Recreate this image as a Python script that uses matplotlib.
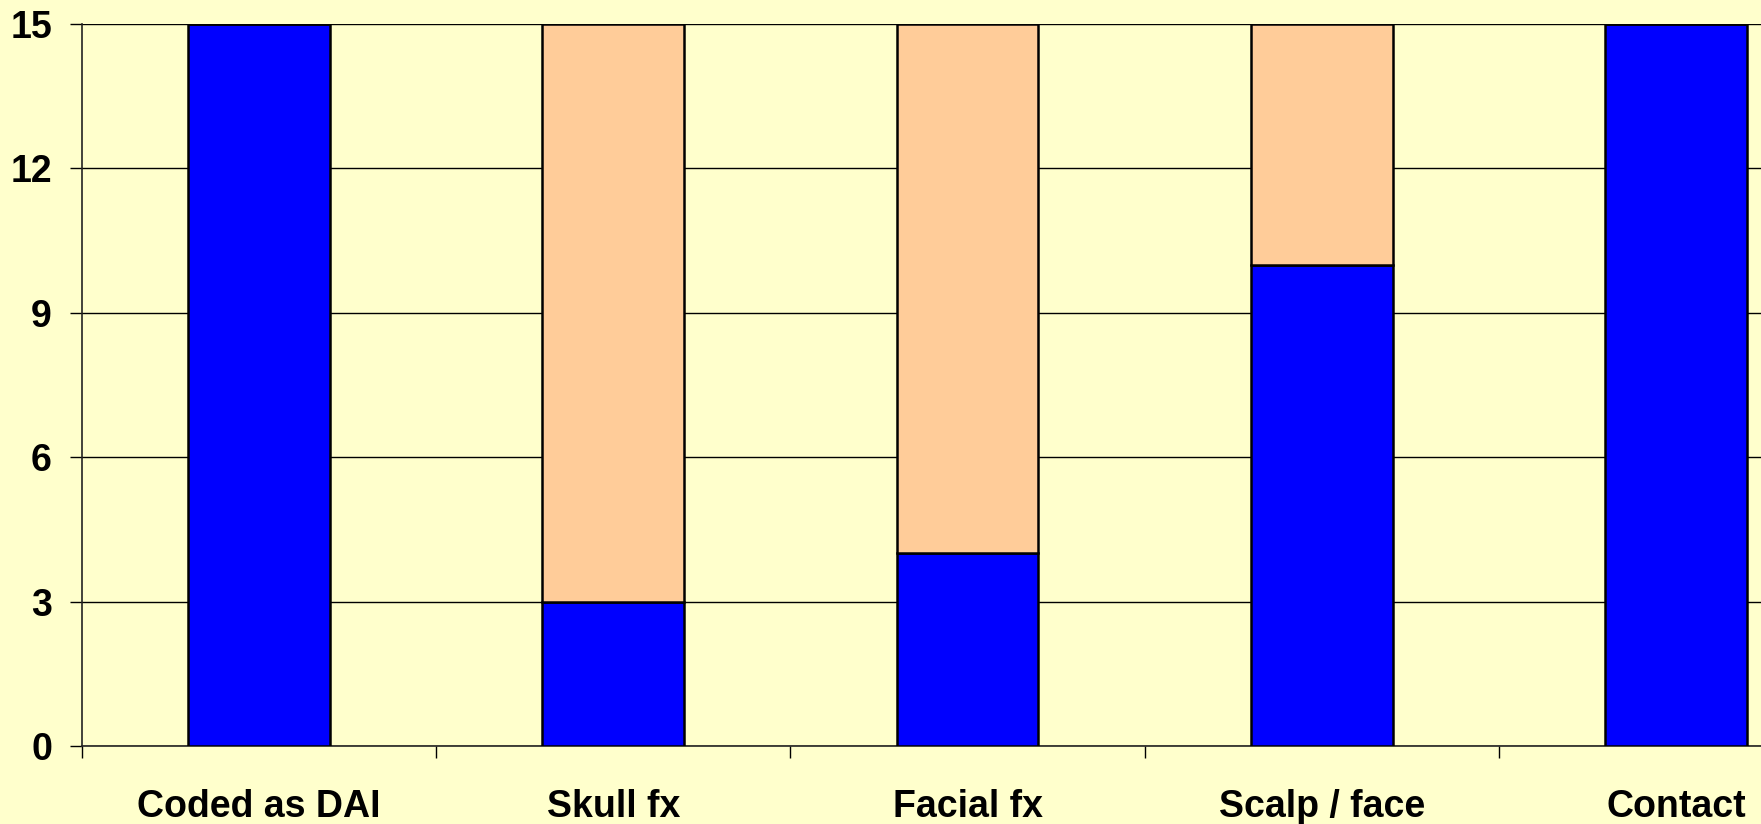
import matplotlib
matplotlib.use("Agg")
import matplotlib.pyplot as plt
import numpy as np

categories = ["Coded as DAI", "Skull fx", "Facial fx", "Scalp / face", "Contact"]
blue_values = [15, 3, 4, 10, 15]
peach_values = [0, 12, 11, 5, 0]
y_ticks = [0, 3, 6, 9, 12, 15]

BG = "#FFFFCC"
BLUE = "#0000FF"
PEACH = "#FFCC99"

plt.rcParams["font.family"] = ["Liberation Sans", "DejaVu Sans"]

W, H = 1761, 824
fig = plt.figure(figsize=(W / 100, H / 100), dpi=100, facecolor=BG)
ax = fig.add_axes([82 / W, 78 / H, (1853 - 82) / W, 722 / H])
ax.set_facecolor(BG)

x = np.arange(len(categories))
ax.bar(x, blue_values, width=0.4, color=BLUE, edgecolor="black", linewidth=1.8, zorder=3)
ax.bar(x, peach_values, width=0.4, bottom=blue_values, color=PEACH,
       edgecolor="black", linewidth=1.8, zorder=3)

ax.set_xlim(-0.5, len(categories) - 0.5)
ax.set_ylim(0, 15)

ax.set_yticks(y_ticks)
ax.set_yticklabels([str(t) for t in y_ticks], fontsize=27, fontweight="bold")
ax.yaxis.grid(True, color="black", linewidth=1.0, zorder=0)
ax.set_axisbelow(True)

ax.set_xticks(x)
ax.set_xticklabels(categories, fontsize=27, fontweight="bold")
ax.set_xticks(np.arange(-0.5, len(categories)), minor=True)
ax.tick_params(axis="x", which="major", length=0, pad=31)
ax.tick_params(axis="x", which="minor", length=8.6, width=1.0, direction="out")
ax.tick_params(axis="y", which="major", length=8.6, width=1.0, direction="out", pad=13)

for side in ("top", "right"):
    ax.spines[side].set_visible(False)
for side in ("left", "bottom"):
    ax.spines[side].set_linewidth(1.2)
    ax.spines[side].set_color("#222222")

fig.savefig("out.png", dpi=100, facecolor=BG)
